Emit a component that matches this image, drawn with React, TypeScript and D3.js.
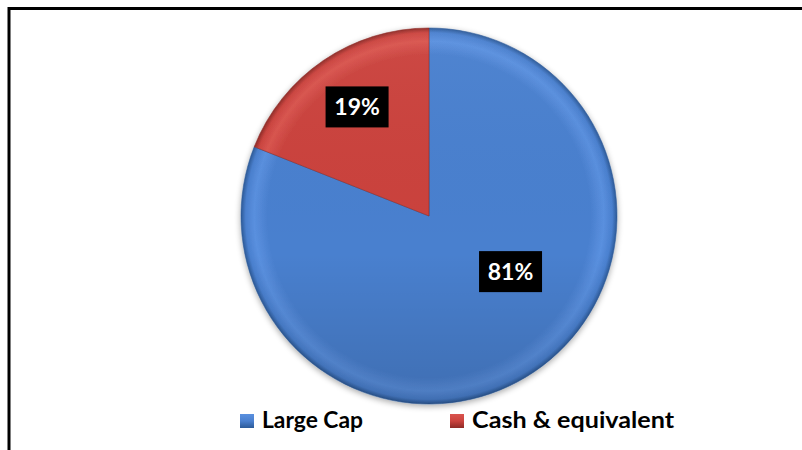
import React from "react";
import * as d3 from "d3";

const categories = ["Large Cap", "Cash & equivalent"];
const values = [81, 19];
const labels = ["81%", "19%"];

const W = 802;
const H = 450;
const CX = 429;
const CY = 216;
const R = 188;

const baseColors = ["#4a80cf", "#cb433e"];
const lightColors = ["#5a90df", "#d9544e"];
const darkColors = ["#2c5a98", "#8e2a26"];
// label anchor positions (angle deg clockwise from 12 o'clock, radius fraction)
const labelPlace = [
  { ang: 124.3, rf: 0.525 },
  { ang: -33.4, rf: 0.695 },
];

export default function App() {
  const arcsData = d3
    .pie<number>()
    .sort(null)
    .value((d) => d)(values);
  const arc = d3.arc<any>().innerRadius(0).outerRadius(R);
  const font = "Lato, 'Open Sans', sans-serif";

  return (
    <svg
      width={W}
      height={H}
      style={{ position: "absolute", left: 0, top: 0, display: "block" }}
      fontFamily={font}
    >
      <defs>
        {categories.map((c, i) => (
          <radialGradient
            key={c}
            id={`g${i}`}
            gradientUnits="userSpaceOnUse"
            cx={0}
            cy={0}
            r={R}
          >
            <stop offset="0" stopColor={baseColors[i]} />
            <stop offset="0.86" stopColor={baseColors[i]} />
            <stop offset="0.93" stopColor={lightColors[i]} />
            <stop offset="0.975" stopColor={baseColors[i]} />
            <stop offset="1" stopColor={darkColors[i]} />
          </radialGradient>
        ))}
        <linearGradient id="shade" gradientUnits="userSpaceOnUse" x1={0} y1={-R} x2={0} y2={R}>
          <stop offset="0" stopColor="#fff" stopOpacity={0.04} />
          <stop offset="0.6" stopColor="#000" stopOpacity={0} />
          <stop offset="1" stopColor="#000" stopOpacity={0.14} />
        </linearGradient>
        <filter id="sh" x="-20%" y="-20%" width="140%" height="140%">
          <feGaussianBlur in="SourceAlpha" stdDeviation="3" />
          <feOffset dx="0" dy="2" result="b" />
          <feComponentTransfer>
            <feFuncA type="linear" slope="0.35" />
          </feComponentTransfer>
          <feMerge>
            <feMergeNode />
            <feMergeNode in="SourceGraphic" />
          </feMerge>
        </filter>
        {categories.map((c, i) => (
          <linearGradient key={c} id={`m${i}`} x1="0" y1="0" x2="0" y2="1">
            <stop offset="0" stopColor={lightColors[i]} />
            <stop offset="0.5" stopColor={baseColors[i]} />
            <stop offset="1" stopColor={darkColors[i]} />
          </linearGradient>
        ))}
      </defs>
      <rect width={W} height={H} fill="#fff" />
      <line x1={8} y1={8.5} x2={W} y2={8.5} stroke="#000" strokeWidth={3} />
      <line x1={9} y1={7} x2={9} y2={H} stroke="#000" strokeWidth={3} />

      <g transform={`translate(${CX},${CY})`}>
        <g filter="url(#sh)">
          {arcsData.map((d, i) => (
            <path
              key={i}
              d={arc(d) || ""}
              fill={`url(#g${i})`}
              stroke={darkColors[i]}
              strokeWidth={0.8}
              strokeOpacity={0.7}
            />
          ))}
        </g>
        {arcsData.map((d, i) => (
          <path key={`s${i}`} d={arc(d) || ""} fill="url(#shade)" />
        ))}
      </g>

      {labels.map((t, i) => {
        const a = (labelPlace[i].ang * Math.PI) / 180;
        const x = CX + Math.sin(a) * R * labelPlace[i].rf;
        const y = CY - Math.cos(a) * R * labelPlace[i].rf;
        return (
          <g key={t}>
            <rect x={x - 31.5} y={y - 20.5} width={63} height={41} fill="#000" />
            <text
              x={x}
              y={y + 8.5}
              textAnchor="middle"
              fill="#fff"
              fontWeight="bold"
              fontSize={23}
            >
              {t}
            </text>
          </g>
        );
      })}

      <g>
        {categories.map((c, i) => {
          const mx = i === 0 ? 240 : 450;
          const tw = i === 0 ? 101 : 202;
          return (
            <g key={c}>
              <rect x={mx} y={414} width={14} height={14} fill={`url(#m${i})`} />
              <text
                x={mx + 22}
                y={428}
                fontWeight="bold"
                fontSize={23}
                fill="#000"
                textLength={tw}
                lengthAdjust="spacingAndGlyphs"
              >
                {c}
              </text>
            </g>
          );
        })}
      </g>
    </svg>
  );
}
